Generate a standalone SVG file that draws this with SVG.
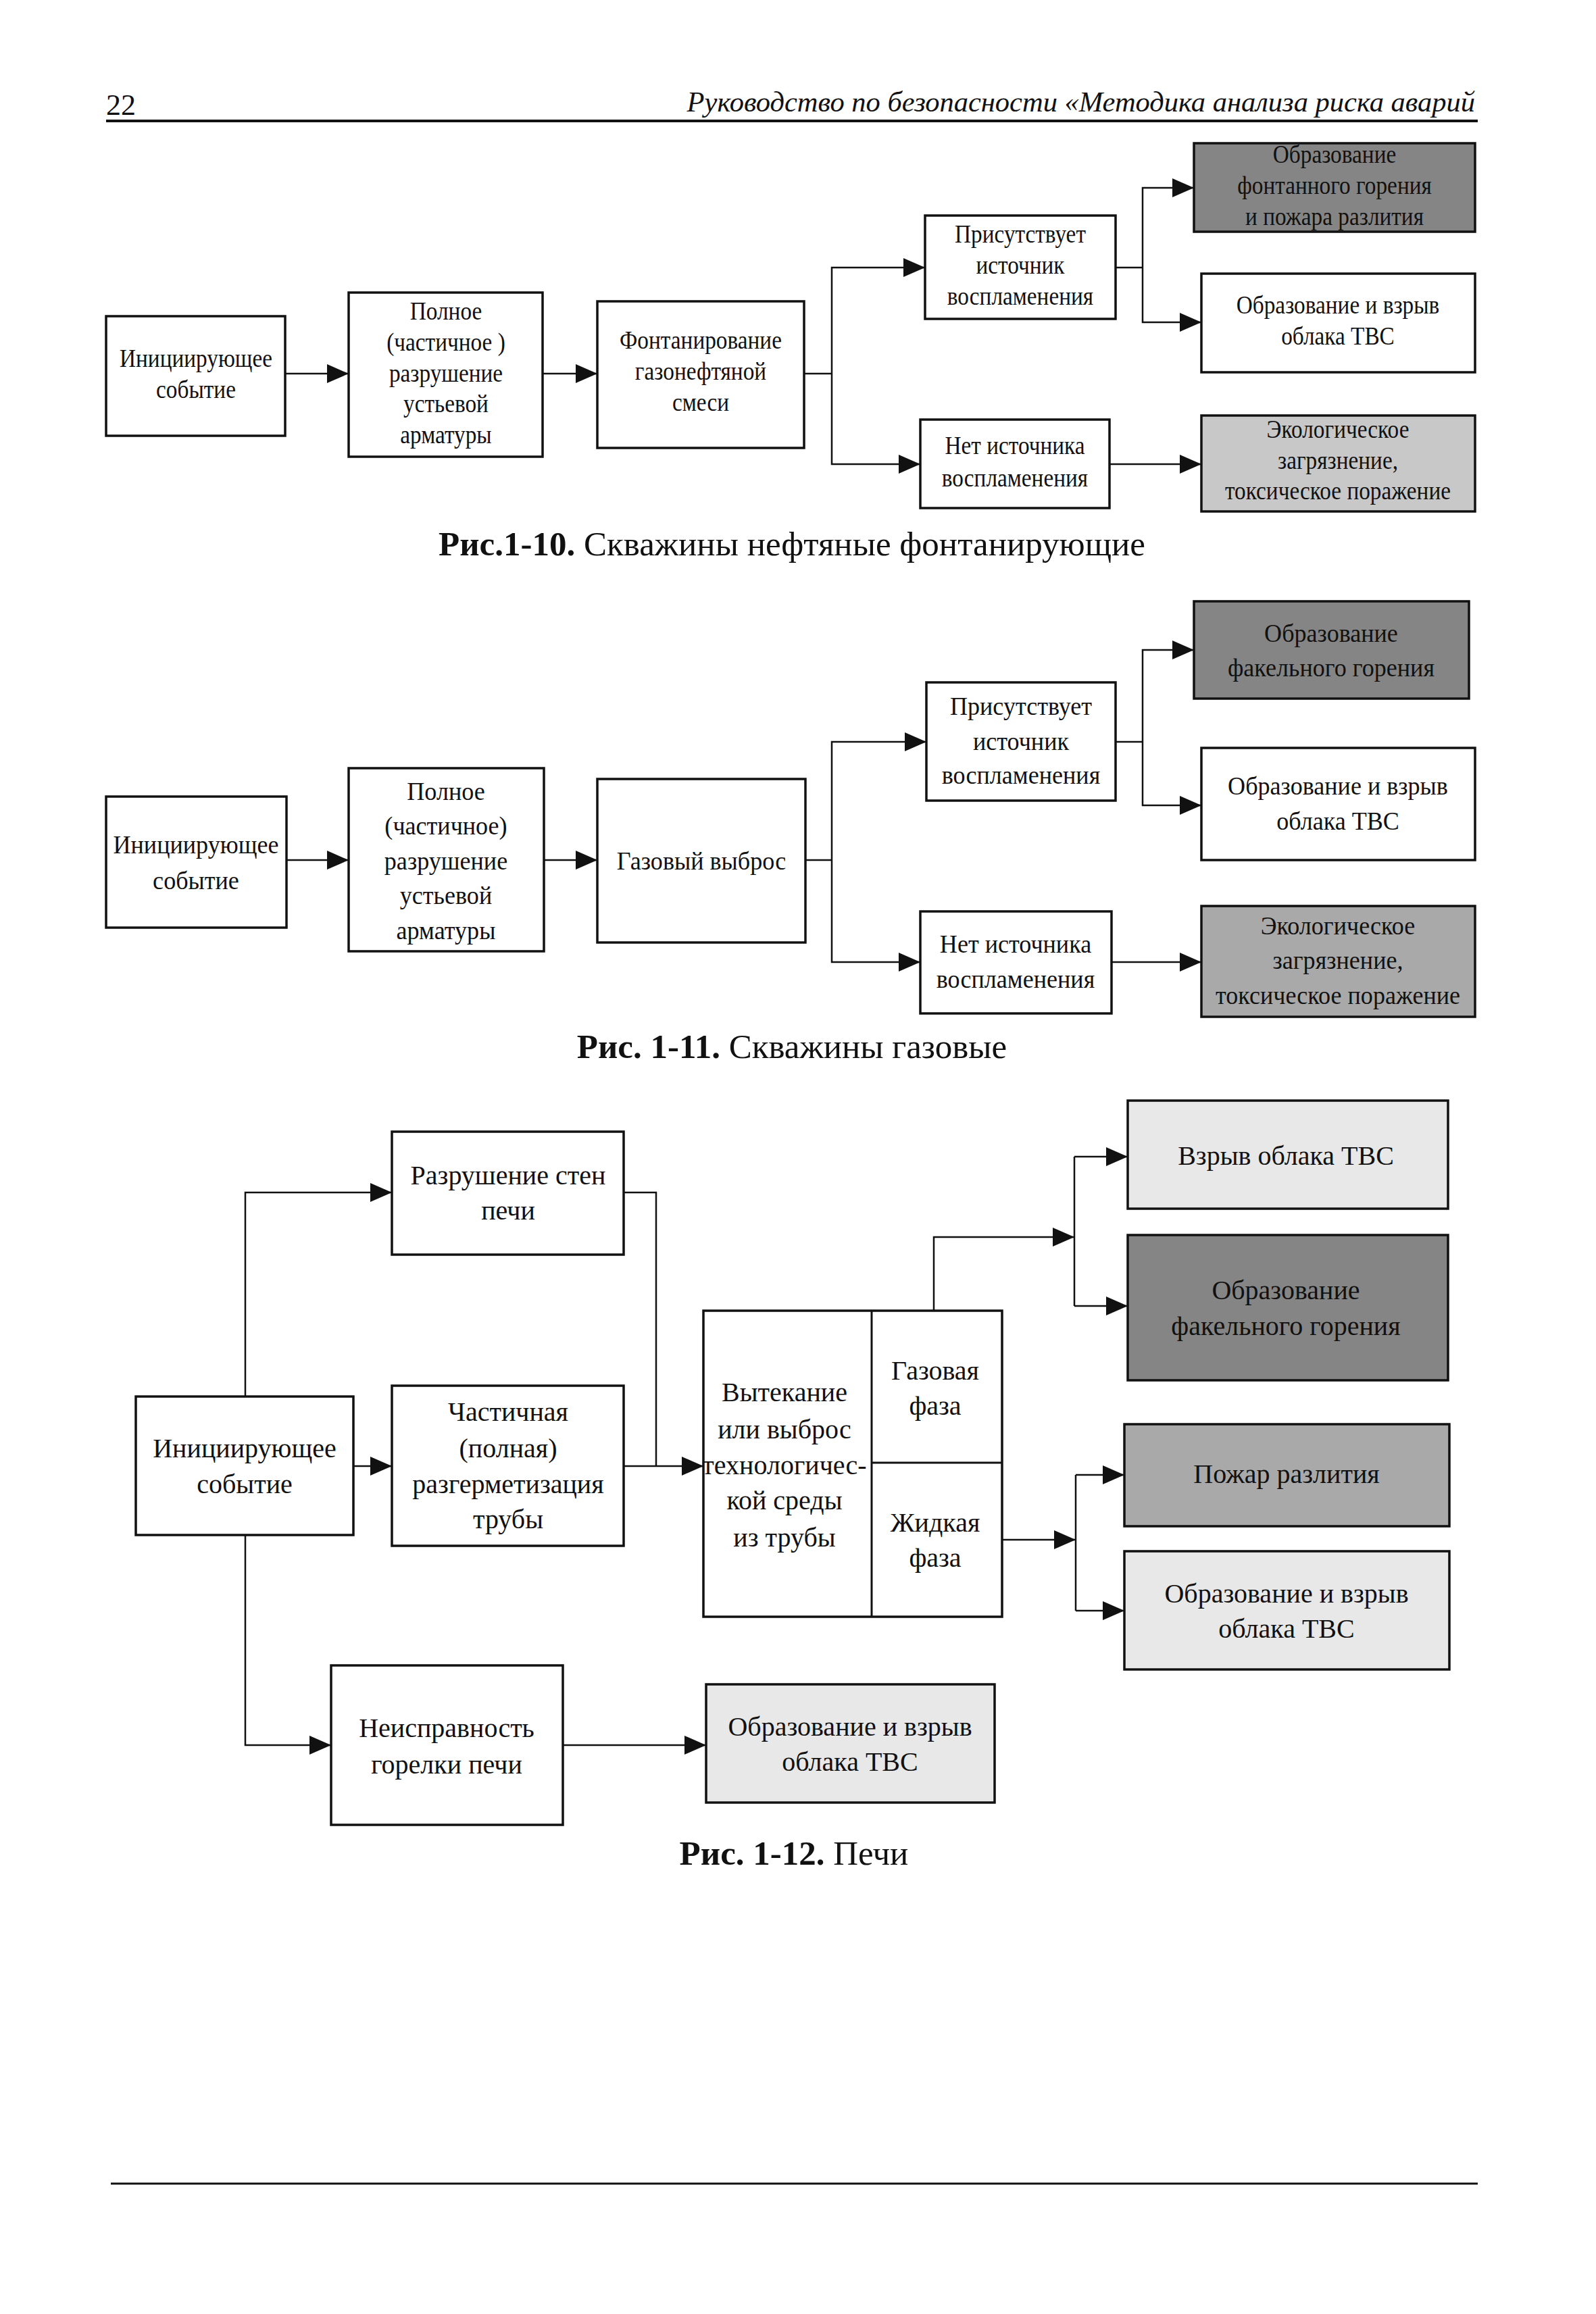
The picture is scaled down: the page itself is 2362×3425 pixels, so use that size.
<svg xmlns="http://www.w3.org/2000/svg" width="2362" height="3425" viewBox="0 0 2362 3425">
<style>
.bg{fill:#ffffff}
.box{fill:#ffffff;stroke:#111;stroke-width:3.5}
.dark{fill:#858585;stroke:#111;stroke-width:3.5}
.mid{fill:#a9a9a9;stroke:#111;stroke-width:3.5}
.lite{fill:#c8c8c8;stroke:#111;stroke-width:3.5}
.pale{fill:#e8e8e8;stroke:#111;stroke-width:3.5}
.div{stroke:#111;stroke-width:3}
text{font-family:"Liberation Serif","Times New Roman",serif;fill:#111;text-anchor:middle}
.t10{font-size:37px}
.t11{font-size:38px}
.t12{font-size:40px}
.cap{font-size:51px}
.capb{font-weight:bold}
.hdr{font-size:42.5px}
.con path{fill:none;stroke:#111;stroke-width:2.5}
.con path.a{marker-end:url(#ah)}
.rule{stroke:#111;stroke-width:4}
</style>
<defs>
<marker id="ah" markerUnits="userSpaceOnUse" markerWidth="32" markerHeight="28" refX="32" refY="14" orient="auto">
<path d="M0,0 L32,14 L0,28 Z" fill="#111"/>
</marker>
</defs>
<rect class="bg" x="0" y="0" width="2362" height="3425"/>

<g id="header">
<text style="font-size:44px;text-anchor:start" x="157" y="170">22</text>
<text class="hdr" x="2183" y="165" style="text-anchor:end;font-style:italic">Руководство по безопасности «Методика анализа риска аварий</text>
<line class="rule" x1="157" y1="179" x2="2187" y2="179"/>
</g>

<!-- Figure 1-10 -->
<g id="f10-a"><rect class="box" x="157" y="468" width="265" height="177"/>
<text class="t10" transform="translate(290 0) scale(0.9 1)"><tspan x="0" y="543">Инициирующее</tspan><tspan x="0" y="589">событие</tspan></text></g>
<g id="f10-b"><rect class="box" x="516" y="433" width="287" height="243"/>
<text class="t10" transform="translate(660 0) scale(0.9 1)"><tspan x="0" y="473">Полное</tspan><tspan x="0" y="519">(частичное )</tspan><tspan x="0" y="565">разрушение</tspan><tspan x="0" y="610">устьевой</tspan><tspan x="0" y="656">арматуры</tspan></text></g>
<g id="f10-c"><rect class="box" x="884" y="446" width="306" height="217"/>
<text class="t10" transform="translate(1037 0) scale(0.9 1)"><tspan x="0" y="516">Фонтанирование</tspan><tspan x="0" y="562">газонефтяной</tspan><tspan x="0" y="608">смеси</tspan></text></g>
<g id="f10-d"><rect class="box" x="1369" y="319" width="282" height="153"/>
<text class="t10" transform="translate(1510 0) scale(0.9 1)"><tspan x="0" y="359">Присутствует</tspan><tspan x="0" y="405">источник</tspan><tspan x="0" y="451">воспламенения</tspan></text></g>
<g id="f10-e"><rect class="box" x="1362" y="621" width="280" height="131"/>
<text class="t10" transform="translate(1502 0) scale(0.9 1)"><tspan x="0" y="672">Нет источника</tspan><tspan x="0" y="720">воспламенения</tspan></text></g>
<g id="f10-f"><rect class="dark" x="1767" y="212" width="416" height="131"/>
<text class="t10" transform="translate(1975 0) scale(0.9 1)"><tspan x="0" y="241">Образование</tspan><tspan x="0" y="287">фонтанного горения</tspan><tspan x="0" y="333">и пожара разлития</tspan></text></g>
<g id="f10-g"><rect class="box" x="1778" y="405" width="405" height="146"/>
<text class="t10" transform="translate(1980 0) scale(0.9 1)"><tspan x="0" y="464">Образование и взрыв</tspan><tspan x="0" y="510">облака ТВС</tspan></text></g>
<g id="f10-h"><rect class="lite" x="1778" y="615" width="405" height="142"/>
<text class="t10" transform="translate(1980 0) scale(0.9 1)"><tspan x="0" y="648">Экологическое</tspan><tspan x="0" y="694">загрязнение,</tspan><tspan x="0" y="739">токсическое поражение</tspan></text></g>
<g id="f10-caption"><text class="cap" x="1172" y="822"><tspan class="capb">Рис.1-10.</tspan> Скважины нефтяные фонтанирующие</text></g>

<!-- Figure 1-11 -->
<g id="f11-a"><rect class="box" x="157" y="1179" width="267" height="194"/>
<text class="t11" transform="translate(290 0) scale(0.95 1)"><tspan x="0" y="1263">Инициирующее</tspan><tspan x="0" y="1316">событие</tspan></text></g>
<g id="f11-b"><rect class="box" x="516" y="1137" width="289" height="271"/>
<text class="t11" transform="translate(660 0) scale(0.95 1)"><tspan x="0" y="1184">Полное</tspan><tspan x="0" y="1235">(частичное)</tspan><tspan x="0" y="1287">разрушение</tspan><tspan x="0" y="1338">устьевой</tspan><tspan x="0" y="1390">арматуры</tspan></text></g>
<g id="f11-c"><rect class="box" x="884" y="1153" width="308" height="242"/>
<text class="t11" transform="translate(1038 0) scale(0.95 1)" x="0" y="1287">Газовый выброс</text></g>
<g id="f11-d"><rect class="box" x="1371" y="1010" width="280" height="175"/>
<text class="t11" transform="translate(1511 0) scale(0.95 1)"><tspan x="0" y="1058">Присутствует</tspan><tspan x="0" y="1110">источник</tspan><tspan x="0" y="1160">воспламенения</tspan></text></g>
<g id="f11-e"><rect class="box" x="1362" y="1349" width="283" height="151"/>
<text class="t11" transform="translate(1503 0) scale(0.95 1)"><tspan x="0" y="1410">Нет источника</tspan><tspan x="0" y="1462">воспламенения</tspan></text></g>
<g id="f11-f"><rect class="dark" x="1767" y="890" width="407" height="144"/>
<text class="t11" transform="translate(1970 0) scale(0.95 1)"><tspan x="0" y="950">Образование</tspan><tspan x="0" y="1001">факельного горения</tspan></text></g>
<g id="f11-g"><rect class="box" x="1778" y="1107" width="405" height="166"/>
<text class="t11" transform="translate(1980 0) scale(0.95 1)"><tspan x="0" y="1176">Образование и взрыв</tspan><tspan x="0" y="1228">облака ТВС</tspan></text></g>
<g id="f11-h"><rect class="mid" x="1778" y="1341" width="405" height="164"/>
<text class="t11" transform="translate(1980 0) scale(0.95 1)"><tspan x="0" y="1383">Экологическое</tspan><tspan x="0" y="1434">загрязнение,</tspan><tspan x="0" y="1486">токсическое поражение</tspan></text></g>
<g id="f11-caption"><text class="cap" x="1172" y="1566"><tspan class="capb">Рис. 1-11.</tspan> Скважины газовые</text></g>

<!-- Figure 1-12 -->
<g id="f12-a"><rect class="box" x="201" y="2067" width="322" height="205"/>
<text class="t12"><tspan x="362" y="2157">Инициирующее</tspan><tspan x="362" y="2210">событие</tspan></text></g>
<g id="f12-b"><rect class="box" x="580" y="1675" width="343" height="182"/>
<text class="t12"><tspan x="752" y="1753">Разрушение стен</tspan><tspan x="752" y="1805">печи</tspan></text></g>
<g id="f12-c"><rect class="box" x="580" y="2051" width="343" height="237"/>
<text class="t12"><tspan x="752" y="2103">Частичная</tspan><tspan x="752" y="2157">(полная)</tspan><tspan x="752" y="2210">разгерметизация</tspan><tspan x="752" y="2262">трубы</tspan></text></g>
<g id="f12-d"><rect class="box" x="490" y="2465" width="343" height="236"/>
<text class="t12"><tspan x="661" y="2571">Неисправность</tspan><tspan x="661" y="2625">горелки печи</tspan></text></g>
<g id="f12-e"><rect class="box" x="1041" y="1940" width="442" height="453"/>
<line class="div" x1="1290" y1="1940" x2="1290" y2="2393"/>
<line class="div" x1="1290" y1="2165" x2="1483" y2="2165"/>
<text class="t12"><tspan x="1161" y="2074">Вытекание</tspan><tspan x="1161" y="2129">или выброс</tspan><tspan x="1161" y="2182">технологичес-</tspan><tspan x="1161" y="2234">кой среды</tspan><tspan x="1161" y="2289">из трубы</tspan></text>
<text class="t12"><tspan x="1384" y="2042">Газовая</tspan><tspan x="1384" y="2094">фаза</tspan></text>
<text class="t12"><tspan x="1384" y="2267">Жидкая</tspan><tspan x="1384" y="2319">фаза</tspan></text></g>
<g id="f12-f1"><rect class="pale" x="1669" y="1629" width="474" height="160"/>
<text class="t12" x="1903" y="1724">Взрыв облака ТВС</text></g>
<g id="f12-f2"><rect class="dark" x="1669" y="1828" width="474" height="215"/>
<text class="t12"><tspan x="1903" y="1923">Образование</tspan><tspan x="1903" y="1976">факельного горения</tspan></text></g>
<g id="f12-f3"><rect class="mid" x="1664" y="2108" width="481" height="151"/>
<text class="t12" x="1904" y="2195">Пожар разлития</text></g>
<g id="f12-f4"><rect class="pale" x="1664" y="2296" width="481" height="175"/>
<text class="t12"><tspan x="1904" y="2372">Образование и взрыв</tspan><tspan x="1904" y="2424">облака ТВС</tspan></text></g>
<g id="f12-g"><rect class="pale" x="1045" y="2493" width="427" height="175"/>
<text class="t12"><tspan x="1258" y="2569">Образование и взрыв</tspan><tspan x="1258" y="2621">облака ТВС</tspan></text></g>
<g id="f12-caption"><text class="cap" x="1175" y="2760"><tspan class="capb">Рис. 1-12.</tspan> Печи</text></g>

<g id="connectors" class="con">
<path class="a" d="M422,553 H516"/>
<path class="a" d="M803,553 H884"/>
<path d="M1190,553 H1231"/>
<path class="a" d="M1231,553 V396 H1369"/>
<path class="a" d="M1231,553 V687 H1362"/>
<path d="M1651,396 H1691"/>
<path class="a" d="M1691,396 V278 H1767"/>
<path class="a" d="M1691,396 V477 H1778"/>
<path class="a" d="M1642,687 H1778"/>

<path class="a" d="M424,1273 H516"/>
<path class="a" d="M805,1273 H884"/>
<path d="M1192,1273 H1231"/>
<path class="a" d="M1231,1273 V1098 H1371"/>
<path class="a" d="M1231,1273 V1424 H1362"/>
<path d="M1651,1098 H1691"/>
<path class="a" d="M1691,1098 V962 H1767"/>
<path class="a" d="M1691,1098 V1192 H1778"/>
<path class="a" d="M1645,1424 H1778"/>

<path class="a" d="M363,2067 V1765 H580"/>
<path class="a" d="M523,2170 H580"/>
<path class="a" d="M363,2272 V2583 H490"/>
<path d="M923,1765 H971 V2170"/>
<path class="a" d="M923,2170 H1041"/>
<path class="a" d="M1382,1940 V1831 H1590"/>
<path d="M1590,1712 V1933"/>
<path class="a" d="M1590,1712 H1669"/>
<path class="a" d="M1590,1933 H1669"/>
<path class="a" d="M1483,2279 H1592"/>
<path d="M1592,2183 V2384"/>
<path class="a" d="M1592,2183 H1664"/>
<path class="a" d="M1592,2384 H1664"/>
<path class="a" d="M833,2583 H1045"/>
</g>

<g id="footer"><line class="rule" x1="164" y1="3232" x2="2187" y2="3232" style="stroke-width:3"/></g>
</svg>
